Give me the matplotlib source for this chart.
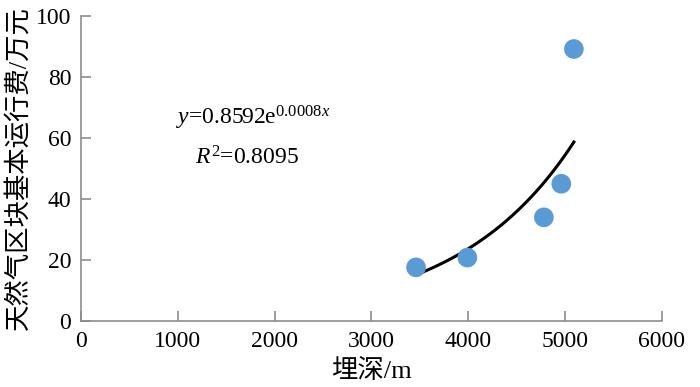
import numpy as np
import matplotlib
matplotlib.use('Agg')
import matplotlib.pyplot as plt

# data
depth = [3460, 3990, 4780, 4960, 5090]        # 埋深 / m
cost = [17.6, 20.8, 34.0, 45.0, 89.2]          # 基本运行费 / 万元

x_ticks = [0, 1000, 2000, 3000, 4000, 5000, 6000]
y_ticks = [0, 20, 40, 60, 80, 100]

plt.rcParams['font.family'] = ['Liberation Serif', 'Noto Sans CJK SC']
plt.rcParams['mathtext.fontset'] = 'custom'
plt.rcParams['mathtext.rm'] = 'Liberation Serif'
plt.rcParams['mathtext.it'] = 'Liberation Serif:italic'

# exponential trend line (least squares on log y, like Excel)
b, ln_a = np.polyfit(depth, np.log(cost), 1)
xs = np.linspace(min(depth), max(depth), 100)
ys = np.exp(ln_a) * np.exp(b * xs)

fig = plt.figure(figsize=(7, 3.87), dpi=100)
ax = fig.add_axes([0.1157, 0.1705, 0.83, 0.788])

ax.plot(xs, ys, color='black', linewidth=2.2, zorder=2)
ax.scatter(depth, cost, s=200, color='#5B9BD5', edgecolors='none', zorder=3)

ax.set_xlim(0, 6000)
ax.set_ylim(0, 100)
ax.set_xticks(x_ticks)
ax.set_yticks(y_ticks)

for side in ['top', 'right']:
    ax.spines[side].set_visible(False)
for side in ['left', 'bottom']:
    ax.spines[side].set_color('#8c8c8c')
    ax.spines[side].set_linewidth(1.2)
ax.tick_params(direction='in', length=7, width=1.2, color='#8c8c8c',
               labelsize=17, pad=7)

ax.set_xlabel('埋深/m', fontsize=19, labelpad=5)
ax.set_ylabel('天然气区块基本运行费/万元', fontsize=19, labelpad=4)

ax.text(1780, 66.5, r'$\mathit{y}$=0.8592e$^{0.0008\mathit{x}}$',
        fontsize=17, ha='center', va='center')
ax.text(1720, 53.5, r'$\mathit{R}^{2}$=0.8095',
        fontsize=17, ha='center', va='center')

fig.savefig('out.png', dpi=100)
